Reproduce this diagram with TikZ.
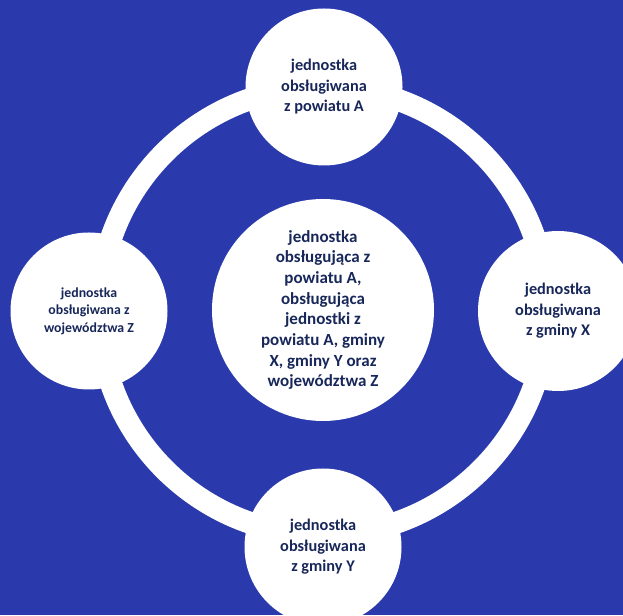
\documentclass[tikz,border=0pt]{standalone}
\usepackage{fontspec}
\setmainfont{Carlito}
\usepackage{xcolor}
\usetikzlibrary{positioning}

\definecolor{bgblue}{HTML}{2A3AAD}
\definecolor{txtnavy}{HTML}{18275A}

\begin{document}
\begin{tikzpicture}[x=1pt, y=1pt]
    % Background
    \fill[bgblue] (0,0) rectangle (623,615);
    \useasboundingbox (0,0) rectangle (623,615);

    % White ring
    \draw[white, line width=22pt] (323,304) circle (224);

    % Centre unit
    \node[circle, fill=white, minimum size=222pt, inner sep=0pt, text=txtnavy, align=center, font=\fontsize{17}{20.7}\bfseries] (centre) at (323,305)
        {jednostka\\obsługująca z\\powiatu A,\\obsługująca\\jednostki z\\powiatu A, gminy\\X, gminy Y oraz\\województwa Z};

    % Served units
    \node[circle, fill=white, minimum size=157pt, inner sep=0pt, text=txtnavy, align=center, font=\fontsize{16.3}{20.5}\bfseries] (powiat) at (324,528)
        {jednostka\\obsługiwana\\z powiatu A};
    \node[circle, fill=white, minimum size=160pt, inner sep=0pt, text=txtnavy, align=center, font=\fontsize{16.3}{20.5}\bfseries] (gminaX) at (558,304)
        {jednostka\\obsługiwana\\z gminy X};
    \node[circle, fill=white, minimum size=157pt, inner sep=0pt, text=txtnavy, align=center, font=\fontsize{16.3}{20.5}\bfseries] (gminaY) at (323,68)
        {jednostka\\obsługiwana\\z gminy Y};
    \node[circle, fill=white, minimum size=157pt, inner sep=0pt, text=txtnavy, align=center, font=\fontsize{13.8}{17.5}\bfseries] (woj) at (89,304)
        {jednostka\\obsługiwana z\\województwa Z};

\end{tikzpicture}
\end{document}
